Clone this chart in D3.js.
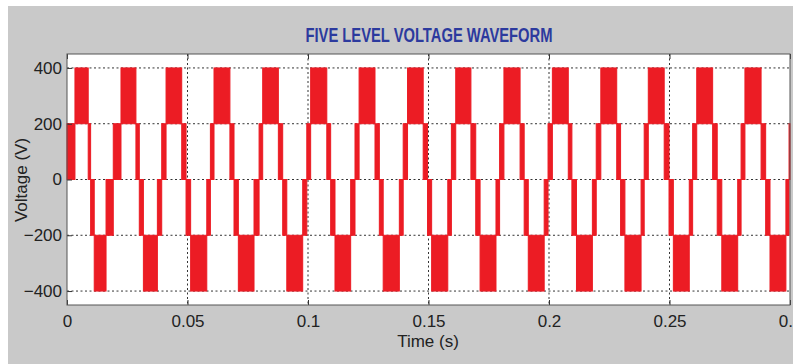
<!DOCTYPE html>
<html>
<head>
<meta charset="utf-8">
<script src="https://cdn.jsdelivr.net/npm/d3@7"></script>
<style>
  body { margin: 0; background: #fff; }
  .tick text { font-family: "Liberation Sans Narrow", "Arial Narrow", sans-serif; font-size: 17px; fill: #222; }
</style>
</head>
<body>
<div id="scope"></div>
<script>
//switching instants of the five level output (ms)
const switchMs = [0,
  3.3, 8.8, 9.8, 11.3, 16.2, 19.2,
  22.4, 28.6, 30.0, 31.7, 37.5, 39.3,
  41.1, 47.6, 49.4, 51.3, 58.0, 59.5,
  61.0, 67.6, 69.3, 71.1, 77.6, 79.7,
  81.2, 87.7, 89.5, 91.2, 97.8, 99.5,
  101.1, 107.8, 109.4, 111.2, 117.7, 119.5,
  121.2, 127.8, 129.6, 131.2, 137.9, 139.5,
  141.3, 147.8, 149.6, 151.3, 158.0, 159.5,
  161.3, 167.6, 169.6, 171.4, 178.0, 179.5,
  181.3, 188.0, 189.7, 191.4, 198.0, 199.6,
  201.4, 208.0, 209.5, 211.4, 218.0, 219.6,
  221.5, 228.1, 229.7, 231.5, 238.2, 239.5,
  241.2, 247.8, 249.8, 251.6, 258.2, 259.6,
  261.3, 267.9, 269.8, 271.7, 278.3, 279.7,
  281.3, 288.0, 289.9, 291.7, 298.3, 299.6,
  300];

//levels (V) the output chops between inside each interval
const lowLevel = [
  0, 200, 0, -200, -400, -200,
  0, 200, 0, -200, -400, -200,
  0, 200, 0, -200, -400, -200,
  0, 200, 0, -200, -400, -200,
  0, 200, 0, -200, -400, -200,
  0, 200, 0, -200, -400, -200,
  0, 200, 0, -200, -400, -200,
  0, 200, 0, -200, -400, -200,
  0, 200, 0, -200, -400, -200,
  0, 200, 0, -200, -400, -200,
  0, 200, 0, -200, -400, -200,
  0, 200, 0, -200, -400, -200,
  0, 200, 0, -200, -400, -200,
  0, 200, 0, -200, -400, -200,
  0, 200, 0, -200, -400, -200,
  0];
const highLevel = [
  200, 400, 200, 0, -200, 0,
  200, 400, 200, 0, -200, 0,
  200, 400, 200, 0, -200, 0,
  200, 400, 200, 0, -200, 0,
  200, 400, 200, 0, -200, 0,
  200, 400, 200, 0, -200, 0,
  200, 400, 200, 0, -200, 0,
  200, 400, 200, 0, -200, 0,
  200, 400, 200, 0, -200, 0,
  200, 400, 200, 0, -200, 0,
  200, 400, 200, 0, -200, 0,
  200, 400, 200, 0, -200, 0,
  200, 400, 200, 0, -200, 0,
  200, 400, 200, 0, -200, 0,
  200, 400, 200, 0, -200, 0,
  200];

const xTicks = [0, 0.05, 0.1, 0.15, 0.2, 0.25, 0.3];
const yTicks = [-400, -200, 0, 200, 400];

//chart properties
const width = 793;
const height = 364;
const margin = { top: 54, right: 3, bottom: 59, left: 67 };
const chartwidth = 723;
const chartheight = height - margin.top - margin.bottom;

const svg = d3.select("#scope")
    .append("svg")
    .attr("width", width)
    .attr("height", height);

//grey figure background
svg.append("rect")
    .attr("x", 8)
    .attr("y", 6)
    .attr("width", width - 8)
    .attr("height", height - 6)
    .attr("fill", "#c9c9c9");

const g = svg.append("g")
    .attr("transform", "translate(" + margin.left + ", " + margin.top + ")");

g.append("rect")
    .attr("width", chartwidth)
    .attr("height", chartheight)
    .attr("fill", "#fff");

const xscale = d3.scaleLinear().domain([0, 0.3]).range([0, chartwidth]);
const yscale = d3.scaleLinear().domain([-450, 450]).range([chartheight, 0]);

//dotted grid
g.append("g")
    .selectAll("line")
    .data(xTicks.slice(1, -1))
    .join("line")
    .attr("x1", d => xscale(d)).attr("x2", d => xscale(d))
    .attr("y1", 0).attr("y2", chartheight)
    .attr("stroke", "#333")
    .attr("stroke-dasharray", "2,2.5");

g.append("g")
    .selectAll("line")
    .data(yTicks)
    .join("line")
    .attr("x1", 0).attr("x2", chartwidth)
    .attr("y1", d => yscale(d)).attr("y2", d => yscale(d))
    .attr("stroke", "#333")
    .attr("stroke-dasharray", "2,2.5");

//waveform: each interval is chopped so fast it shows as a solid band
const sections = lowLevel.map((lo, i) => ({
    t0: switchMs[i] / 1000,
    t1: switchMs[i + 1] / 1000,
    lo: lo,
    hi: highLevel[i]
}));

g.append("g")
    .selectAll("rect")
    .data(sections)
    .join("rect")
    .attr("x", d => xscale(d.t0))
    .attr("width", d => xscale(d.t1) - xscale(d.t0))
    .attr("y", d => yscale(d.hi))
    .attr("height", d => yscale(d.lo) - yscale(d.hi))
    .attr("fill", "#ec1c24")
    .attr("stroke", "#ec1c24")
    .attr("stroke-width", 1);

//axes, ticks pointing inward like the scope
const xAxis = d3.axisBottom(xscale)
    .tickValues(xTicks)
    .tickSize(-5)
    .tickPadding(10)
    .tickFormat(d3.format("~g"));
const yAxis = d3.axisLeft(yscale)
    .tickValues(yTicks)
    .tickSize(-5)
    .tickPadding(5);

const xAxisG = g.append("g")
    .attr("transform", "translate(0, " + chartheight + ")")
    .call(xAxis);
const yAxisG = g.append("g").call(yAxis);

//top ticks
g.append("g")
    .call(d3.axisTop(xscale).tickValues(xTicks).tickSize(-5).tickFormat(""));

xAxisG.selectAll(".domain").remove();
yAxisG.selectAll(".domain").remove();
g.selectAll(".domain").remove();
g.selectAll(".tick line").attr("stroke", "#333");

//plot border
g.append("rect")
    .attr("width", chartwidth)
    .attr("height", chartheight)
    .attr("fill", "none")
    .attr("stroke", "#555")
    .attr("stroke-width", 1);

//title and labels
svg.append("text")
    .attr("x", 429)
    .attr("y", 42)
    .attr("text-anchor", "middle")
    .attr("font-family", "'Liberation Sans Narrow', 'Arial Narrow', sans-serif")
    .attr("font-weight", "bold")
    .attr("font-size", 20)
    .attr("textLength", 247)
    .attr("lengthAdjust", "spacingAndGlyphs")
    .attr("fill", "#2c3a9e")
    .text("FIVE LEVEL VOLTAGE WAVEFORM");

svg.append("text")
    .attr("x", 428)
    .attr("y", 347)
    .attr("text-anchor", "middle")
    .attr("font-family", "'Liberation Sans Narrow', 'Arial Narrow', sans-serif")
    .attr("font-size", 17)
    .attr("fill", "#222")
    .text("Time (s)");

svg.append("text")
    .attr("transform", "translate(27, 180) rotate(-90)")
    .attr("text-anchor", "middle")
    .attr("font-family", "'Liberation Sans Narrow', 'Arial Narrow', sans-serif")
    .attr("font-size", 17)
    .attr("fill", "#222")
    .text("Voltage (V)");
</script>
</body>
</html>
